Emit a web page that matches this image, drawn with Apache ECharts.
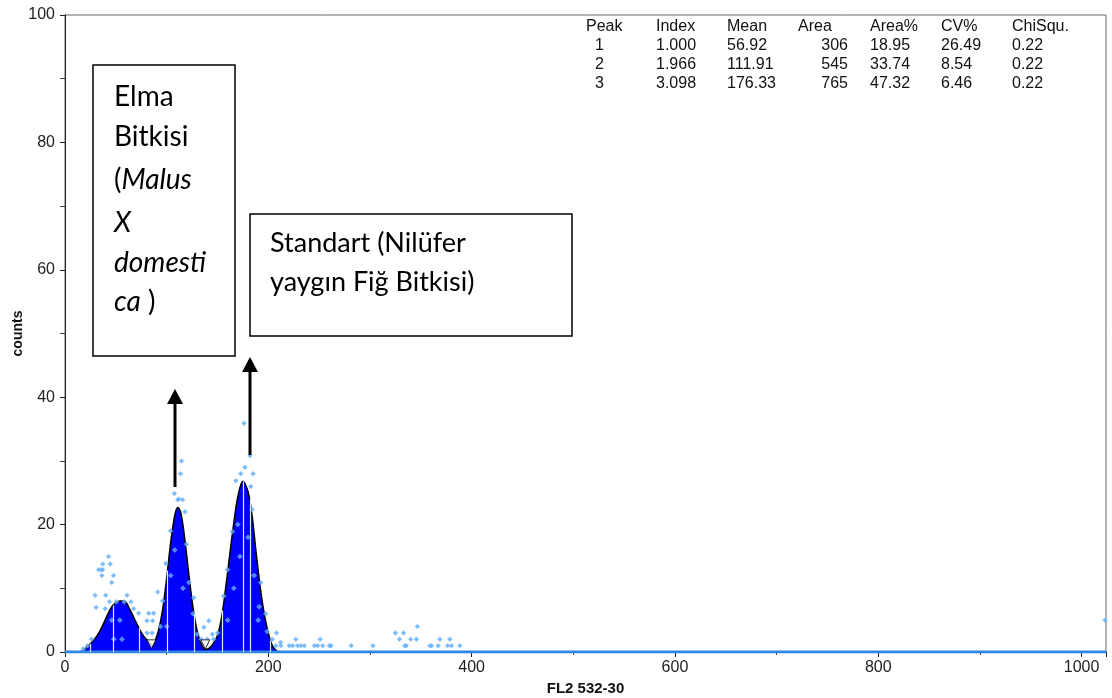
<!DOCTYPE html>
<html>
<head>
<meta charset="utf-8">
<script src="https://cdn.jsdelivr.net/npm/echarts@6/dist/echarts.min.js"></script>
<style>
  html, body { margin: 0; padding: 0; background: #fff; }
  #chart { width: 1112px; height: 698px; }
</style>
</head>
<body>
<div id="chart"></div>
<script>
// fitted histogram outline (channel, counts)
var fitX = [0, 14, 18, 22, 26, 30, 34, 38, 42, 46, 50, 54, 57, 60, 64, 68, 72, 76, 80, 84, 86, 88, 92, 96, 100, 104, 108, 111, 114, 118, 122, 126, 130, 134, 138, 142, 146, 150, 154, 158, 162, 166, 170, 175, 180, 184, 188, 192, 196, 200, 204, 208, 212, 1024];
var fitY = [0, 0, 0.3, 0.8, 1.5, 2.2, 3.2, 4.5, 5.9, 7.1, 7.7, 8.0, 8.0, 7.8, 6.6, 5.3, 4.0, 2.8, 2.0, 1.4, 1.0, 1.5, 3.4, 6.6, 11.6, 17.2, 21.5, 22.7, 21.8, 17.5, 11.9, 6.9, 3.3, 1.3, 0.4, 0.6, 1.4, 2.6, 5.4, 10.0, 15.2, 20.2, 24.4, 26.8, 25.2, 21.4, 15.6, 10.2, 6.0, 3.0, 1.0, 0.2, 0, 0];

// raw channel counts that stick out of the fit
var rawPoints = [
  [18, 0.5], [22, 1], [26, 2], [29.6, 8.9], [30.6, 7], [33, 12.9], [35.3, 12.9], [37, 12.9], [36.2, 12], [37.2, 13.8],
  [44.4, 13.8], [42.8, 15], [47.7, 12], [46, 10.9], [40, 8.9], [61, 8.9], [39.5, 6.8], [67.5, 6.8], [43.8, 7.9], [50.4, 7.9],
  [58.3, 7.9], [64.9, 7.9], [72.4, 6.1], [82.3, 6.1], [87.2, 6.1], [80.6, 4.9], [86.2, 4.9], [91.2, 9.4], [93.8, 4], [80.7, 3],
  [85.6, 3], [46, 5], [54, 5], [48, 2], [56, 2],
  [99, 13.9], [103.7, 19], [107.6, 24.9], [112, 24], [111, 23.9], [115.6, 23.9], [113.6, 28], [114.6, 30], [118, 22], [119.5, 16.9],
  [122, 10.9], [126, 6], [126.7, 8.5], [136.6, 3.9], [141.5, 4.9], [144.9, 2.8], [130, 2.8], [134, 2], [140, 2], [146, 2],
  [138, 1.3], [104, 12], [108, 16], [116, 10], [96, 8], [100, 4],
  [156, 8.8], [159.7, 12.9], [164.6, 18.9], [168, 26.9], [172.8, 28], [177, 29], [185, 28], [182.7, 26], [184, 22.4], [176, 35.9],
  [182, 30.8], [192.6, 10.9], [191, 7.1], [197.5, 6], [199, 3.2], [190, 5], [170, 20], [172, 15], [180, 18], [166, 10],
  [186, 12], [160, 5], [150, 3], [204, 2], [208, 3], [212, 1.5],
  [207.4, 1], [212.3, 1], [220.6, 1], [223.9, 1], [228.8, 1], [232.1, 1], [235.4, 1], [245.3, 1], [248.6, 1], [253.5, 1],
  [260.1, 1], [261.7, 1], [281.5, 1], [302.9, 1], [334.1, 1], [335.8, 1], [358.8, 1], [360.5, 1], [367.1, 1], [376.3, 1],
  [380.2, 1], [388.4, 1],
  [227, 2], [251, 2], [329, 2], [340, 2], [345.7, 2], [368.7, 2], [378.6, 2], [325, 3], [333, 3], [346.7, 4],
  [1023, 5]
];
// zero-count channels along the baseline
var baseX = [0, 1024];
var baseY = [0, 0];

// white region lines inside the peaks (channel, height)
var regionX = [25, 47, 73, 101, 127, 155, 175.5, 182, 202];
var regionY = [1.3, 7.3, 3.8, 12.8, 6.0, 6.5, 26.8, 24.0, 1.8];

// valley markers
var valleyPoints = [[85, 1.2], [138, 1.2]];

// peak table
var tableHead = ['Peak', 'Index', 'Mean', 'Area', 'Area%', 'CV%', 'ChiSqu.'];
var tableRows = [
  ['1', '1.000', '56.92', '306', '18.95', '26.49', '0.22'],
  ['2', '1.966', '111.91', '545', '33.74', '8.54', '0.22'],
  ['3', '3.098', '176.33', '765', '47.32', '6.46', '0.22']
];

var fitData = fitX.map(function (x, i) { return [x, fitY[i]]; });
var baseData = baseX.map(function (x, i) { return [x, baseY[i]]; });
var regionLines = regionX.map(function (x, i) {
  return [{ coord: [x, 0] }, { coord: [x, regionY[i]] }];
});

// table as graphic text
var headX = [586, 656, 727, 798, 870, 941, 1012];
var colX = [595, 656, 727, 848, 870, 941, 1012];
var rowY = [27, 46, 65, 84];
var tableFont = '16px "Liberation Sans", Arial';
var tableGraphics = [];
tableHead.forEach(function (t, j) {
  tableGraphics.push({ type: 'text', x: headX[j], y: rowY[0],
    style: { text: t, font: tableFont, fill: '#111', textVerticalAlign: 'middle' } });
});
tableRows.forEach(function (row, r) {
  row.forEach(function (t, j) {
    tableGraphics.push({ type: 'text', x: colX[j], y: rowY[r + 1],
      style: { text: t, font: tableFont, fill: '#111', textVerticalAlign: 'middle',
        textAlign: j === 3 ? 'right' : 'left' } });
  });
});

var boxFont = '28px Lato';
var boxItalic = 'italic 28px Lato';
var annotations = [
  { type: 'rect', shape: { x: 93, y: 65, width: 142, height: 291 }, style: { fill: '#fff', stroke: '#000', lineWidth: 1.5 }, z: 10 },
  { type: 'text', x: 114, y: 97, style: { text: 'Elma', font: boxFont, fill: '#000', textVerticalAlign: 'middle' }, z: 11 },
  { type: 'text', x: 114, y: 137, style: { text: 'Bitkisi', font: boxFont, fill: '#000', textVerticalAlign: 'middle' }, z: 11 },
  { type: 'text', x: 114, y: 180, style: { text: '{n|(}{i|Malus}', rich: { n: { font: boxFont, fill: '#000' }, i: { font: boxItalic, fill: '#000' } }, textVerticalAlign: 'middle' }, z: 11 },
  { type: 'text', x: 114, y: 223, style: { text: 'X', font: boxItalic, fill: '#000', textVerticalAlign: 'middle' }, z: 11 },
  { type: 'text', x: 114, y: 263, style: { text: 'domesti', font: boxItalic, fill: '#000', textVerticalAlign: 'middle' }, z: 11 },
  { type: 'text', x: 114, y: 302, style: { text: '{i|ca}{n| )}', rich: { n: { font: boxFont, fill: '#000' }, i: { font: boxItalic, fill: '#000' } }, textVerticalAlign: 'middle' }, z: 11 },

  { type: 'rect', shape: { x: 250, y: 214, width: 322, height: 122 }, style: { fill: '#fff', stroke: '#000', lineWidth: 1.5 }, z: 10 },
  { type: 'text', x: 270, y: 243, style: { text: 'Standart (Nilüfer', font: '27px Lato', fill: '#000', textVerticalAlign: 'middle' }, z: 11 },
  { type: 'text', x: 270, y: 282, style: { text: 'yaygın Fiğ Bitkisi)', font: '27px Lato', fill: '#000', textVerticalAlign: 'middle' }, z: 11 },

  // arrows
  { type: 'line', shape: { x1: 175, y1: 487, x2: 175, y2: 402 }, style: { stroke: '#000', lineWidth: 3 }, z: 10 },
  { type: 'polygon', shape: { points: [[167, 404], [183, 404], [175, 389]] }, style: { fill: '#000' }, z: 10 },
  { type: 'line', shape: { x1: 250, y1: 455, x2: 250, y2: 370 }, style: { stroke: '#000', lineWidth: 3 }, z: 10 },
  { type: 'polygon', shape: { points: [[242, 372], [258, 372], [250, 357]] }, style: { fill: '#000' }, z: 10 }
];

var chart = echarts.init(document.getElementById('chart'));

var option = {
  animation: false,
  backgroundColor: '#fff',
  grid: {
    left: 65, right: 6, top: 15, bottom: 46, show: true, borderColor: '#666', borderWidth: 1,
    containLabel: false, outerBoundsMode: 'none'
  },
  xAxis: {
    type: 'value', min: 0, max: 1024, interval: 200,
    name: 'FL2 532-30', nameLocation: 'middle', nameGap: 29,
    nameTextStyle: { fontFamily: '"Liberation Sans", Arial', fontWeight: 'bold', fontSize: 15, color: '#111' },
    axisLine: { lineStyle: { color: '#222', width: 1 } },
    axisTick: { length: 5, lineStyle: { color: '#222' } },
    minorTick: { show: true, splitNumber: 2, length: 3, lineStyle: { color: '#444' } },
    axisLabel: { showMaxLabel: false, margin: 8, fontFamily: '"Liberation Sans", Arial', fontSize: 16, color: '#222',
      formatter: function (v) { return String(v); } },
    splitLine: { show: false }
  },
  yAxis: {
    type: 'value', min: 0, max: 100, interval: 20,
    name: 'counts', nameLocation: 'middle', nameGap: 40, nameRotate: 90, nameMoveOverlap: false,
    nameTextStyle: { fontFamily: '"Liberation Sans", Arial', fontWeight: 'bold', fontSize: 14, color: '#111' },
    axisLine: { show: true, lineStyle: { color: '#222', width: 1 } },
    axisTick: { show: true, length: 5, lineStyle: { color: '#222' } },
    minorTick: { show: true, splitNumber: 2, length: 5, lineStyle: { color: '#444' } },
    axisLabel: { margin: 10, fontFamily: '"Liberation Sans", Arial', fontSize: 16, color: '#222' },
    splitLine: { show: false }
  },
  series: [
    {
      name: 'fit', type: 'line', data: fitData, smooth: 0.35, symbol: 'none',
      lineStyle: { color: '#000', width: 1.5 },
      areaStyle: { color: '#0000ff', opacity: 1 },
      z: 2,
      markLine: {
        silent: true, symbol: 'none', label: { show: false },
        lineStyle: { color: '#dfe6ff', width: 1.2, type: 'solid' },
        data: regionLines
      }
    },
    {
      name: 'base', type: 'line', data: baseData, symbol: 'none',
      lineStyle: { color: '#2f86e6', width: 3 }, z: 3
    },
    {
      name: 'raw', type: 'scatter', data: rawPoints, symbol: 'diamond', symbolSize: 5,
      itemStyle: { color: '#5aaaf7', borderColor: '#9fcdfb', borderWidth: 0.5 }, z: 4
    },
    {
      name: 'valley', type: 'scatter', data: valleyPoints, symbol: 'triangle', symbolRotate: 180, symbolSize: 9,
      itemStyle: { color: '#fff', borderColor: '#000', borderWidth: 1 }, z: 5
    }
  ],
  graphic: tableGraphics.concat(annotations)
};

chart.setOption(option);
</script>
</body>
</html>
